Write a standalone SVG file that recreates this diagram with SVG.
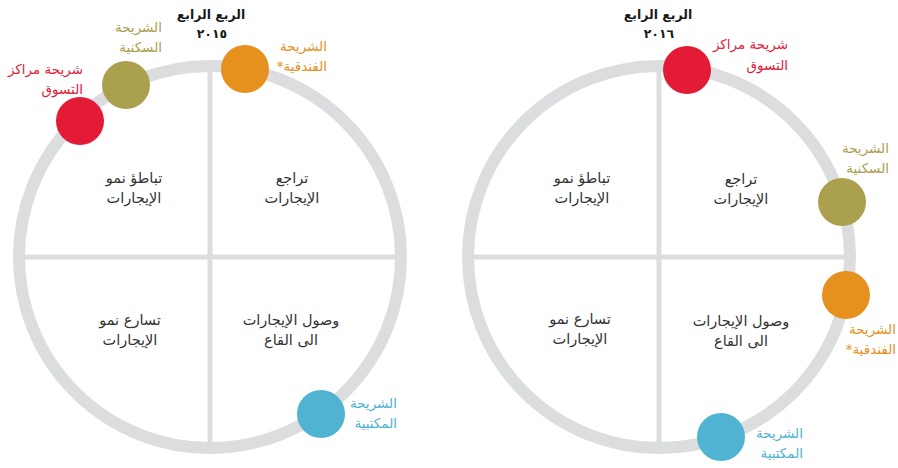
<svg xmlns="http://www.w3.org/2000/svg" width="898" height="468" viewBox="0 0 898 468">
  <style>
    .ring { fill: none; stroke: #dcdddf; stroke-width: 12; }
    .axis { stroke: #dcdddf; stroke-width: 5; }
    text { font-family: "DejaVu Sans", "Noto Sans", sans-serif; font-size: 13.5px; }
    .title { font-weight: bold; font-size: 12.5px; fill: #1a1a1a; text-anchor: middle; }
    .year { letter-spacing: 3px; }
    .quad { fill: #333333; text-anchor: middle; font-size: 14.5px; }
    .lbl { direction: rtl; text-anchor: start; }
    .red { fill: #e41b37; }
    .olive { fill: #aba04e; }
    .orange { fill: #e6901e; }
    .blue { fill: #4fb3d1; }
  </style>

  <!-- Left chart: Q4 2015 -->
  <g id="chart-2015">
    <circle class="ring" cx="210" cy="257" r="191"/>
    <line class="axis" x1="210" y1="66" x2="210" y2="448"/>
    <line class="axis" x1="19" y1="257" x2="401" y2="257"/>
    <text class="title" x="211" y="19">الربع الرابع</text>
    <text class="title year" x="212" y="38">٢٠١٥</text>
    <text class="quad" x="134" y="183">تباطؤ نمو</text>
    <text class="quad" x="134" y="203">الإيجارات</text>
    <text class="quad" x="292" y="183">تراجع</text>
    <text class="quad" x="292" y="203">الإيجارات</text>
    <text class="quad" x="130" y="325">تسارع نمو</text>
    <text class="quad" x="130" y="345">الإيجارات</text>
    <text class="quad" x="291" y="325">وصول الإيجارات</text>
    <text class="quad" x="291" y="345">الى القاع</text>
  </g>

  <!-- Right chart: Q4 2016 -->
  <g id="chart-2016">
    <circle class="ring" cx="659" cy="257" r="191"/>
    <line class="axis" x1="659" y1="66" x2="659" y2="448"/>
    <line class="axis" x1="468" y1="257" x2="850" y2="257"/>
    <text class="title" x="658" y="19">الربع الرابع</text>
    <text class="title year" x="659" y="38">٢٠١٦</text>
    <text class="quad" x="582" y="183">تباطؤ نمو</text>
    <text class="quad" x="582" y="203">الإيجارات</text>
    <text class="quad" x="741" y="184">تراجع</text>
    <text class="quad" x="741" y="204">الإيجارات</text>
    <text class="quad" x="580" y="324">تسارع نمو</text>
    <text class="quad" x="580" y="344">الإيجارات</text>
    <text class="quad" x="741" y="326">وصول الإيجارات</text>
    <text class="quad" x="741" y="346">الى القاع</text>
  </g>

  <!-- Segment markers, 2015 -->
  <g id="seg-2015-retail">
    <circle class="red" cx="80" cy="121" r="24"/>
    <text class="lbl red" x="83" y="74">شريحة مراكز</text>
    <text class="lbl red" x="83" y="94">التسوق</text>
  </g>
  <g id="seg-2015-residential">
    <circle class="olive" cx="126" cy="85" r="24"/>
    <text class="lbl olive" x="162" y="32">الشريحة</text>
    <text class="lbl olive" x="162" y="52">السكنية</text>
  </g>
  <g id="seg-2015-hotel">
    <circle class="orange" cx="245" cy="69" r="24"/>
    <text class="lbl orange" x="327" y="51">الشريحة</text>
    <text class="lbl orange" x="327" y="71">الفندقية*</text>
  </g>
  <g id="seg-2015-office">
    <circle class="blue" cx="321" cy="414" r="24"/>
    <text class="lbl blue" x="397" y="408">الشريحة</text>
    <text class="lbl blue" x="397" y="428">المكتبية</text>
  </g>

  <!-- Segment markers, 2016 -->
  <g id="seg-2016-retail">
    <circle class="red" cx="687" cy="70" r="24"/>
    <text class="lbl red" x="788" y="49">شريحة مراكز</text>
    <text class="lbl red" x="788" y="70">التسوق</text>
  </g>
  <g id="seg-2016-residential">
    <circle class="olive" cx="842" cy="202" r="24"/>
    <text class="lbl olive" x="889" y="153">الشريحة</text>
    <text class="lbl olive" x="889" y="173">السكنية</text>
  </g>
  <g id="seg-2016-hotel">
    <circle class="orange" cx="846" cy="295" r="24"/>
    <text class="lbl orange" x="896" y="334">الشريحة</text>
    <text class="lbl orange" x="896" y="354">الفندقية*</text>
  </g>
  <g id="seg-2016-office">
    <circle class="blue" cx="721" cy="437" r="24"/>
    <text class="lbl blue" x="803" y="438">الشريحة</text>
    <text class="lbl blue" x="803" y="458">المكتبية</text>
  </g>
</svg>
